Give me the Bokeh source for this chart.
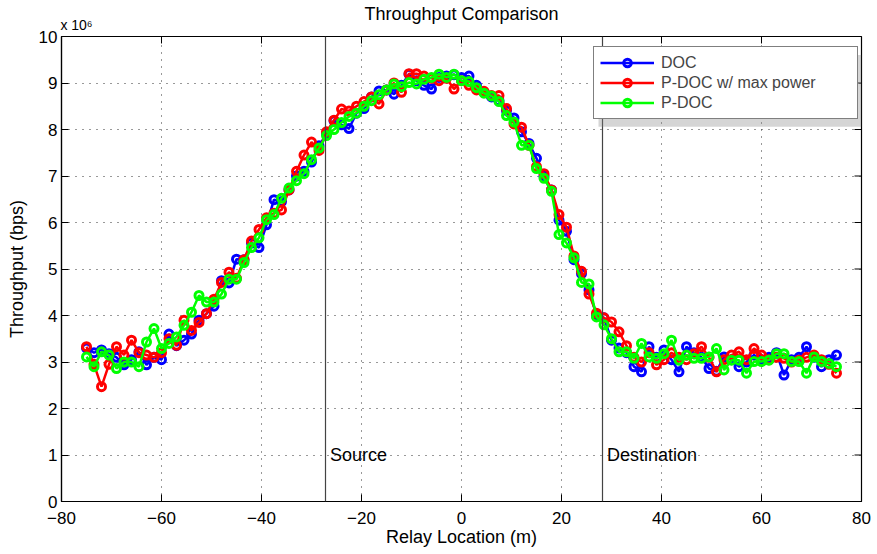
from bokeh.plotting import figure
from bokeh.models import (Range1d, LinearAxis, FixedTicker, Span, Label,
                          Legend, LegendItem, BoxAnnotation)
from bokeh.embed import file_html
from bokeh.resources import INLINE

# ---------------- data ----------------
relay_x = [-75, -73.5, -72, -70.5, -69, -67.5, -66, -64.5, -63, -61.5,
           -60, -58.5, -57, -55.5, -54, -52.5, -51, -49.5, -48, -46.5,
           -45, -43.5, -42, -40.5, -39, -37.5, -36, -34.5, -33, -31.5,
           -30, -28.5, -27, -25.5, -24, -22.5, -21, -19.5, -18, -16.5,
           -15, -13.5, -12, -10.5, -9, -7.5, -6, -4.5, -3, -1.5,
           0, 1.5, 3, 4.5, 6, 7.5, 9, 10.5, 12, 13.5,
           15, 16.5, 18, 19.5, 21, 22.5, 24, 25.5, 27, 28.5,
           30, 31.5, 33, 34.5, 36, 37.5, 39, 40.5, 42, 43.5,
           45, 46.5, 48, 49.5, 51, 52.5, 54, 55.5, 57, 58.5,
           60, 61.5, 63, 64.5, 66, 67.5, 69, 70.5, 72, 73.5,
           75]

# throughput in units of 1e6 bps
doc = [3.30, 3.20, 3.26, 3.18, 3.10, 2.94, 3.05, 3.22, 2.94, 3.10,
       3.05, 3.60, 3.35, 3.47, 3.60, 3.90, 4.04, 4.20, 4.75, 4.70,
       5.21, 5.20, 5.56, 5.46, 5.95, 6.49, 6.45, 6.70, 7.00, 7.10,
       7.30, 7.65, 7.90, 8.19, 8.10, 8.02, 8.35, 8.45, 8.70, 8.83,
       8.85, 8.76, 8.95, 9.19, 9.05, 8.95, 8.87, 9.12, 9.15, 9.18,
       9.12, 9.15, 8.95, 8.80, 8.70, 8.62, 8.41, 8.25, 7.95, 7.70,
       7.38, 7.00, 6.70, 6.05, 5.81, 5.20, 4.90, 4.55, 4.00, 3.95,
       3.47, 3.30, 3.20, 2.90, 2.79, 3.33, 3.10, 3.26, 3.05, 2.79,
       3.33, 3.20, 3.10, 2.86, 2.80, 3.11, 3.05, 2.90, 3.00, 3.15,
       3.05, 3.10, 3.20, 2.72, 3.05, 3.10, 3.33, 3.10, 2.90, 3.05,
       3.15]

pdoc_max = [3.33, 2.95, 2.47, 2.95, 3.33, 3.15, 3.47, 3.20, 3.15, 3.10,
            3.20, 3.50, 3.36, 3.90, 3.68, 3.85, 4.04, 4.35, 4.71, 4.93,
            4.80, 5.20, 5.60, 5.85, 6.10, 6.20, 6.27, 6.70, 7.10, 7.45,
            7.73, 7.55, 7.95, 8.20, 8.44, 8.40, 8.50, 8.60, 8.70, 8.55,
            8.85, 9.00, 8.80, 9.20, 9.20, 9.15, 9.10, 9.05, 9.10, 8.87,
            9.05, 8.95, 8.85, 8.82, 8.73, 8.73, 8.45, 8.12, 8.05, 7.66,
            7.20, 7.05, 6.70, 6.17, 5.90, 5.28, 4.95, 4.46, 4.05, 3.95,
            3.86, 3.65, 3.35, 3.10, 3.00, 3.20, 2.94, 3.05, 3.20, 3.10,
            3.05, 3.18, 3.33, 3.10, 2.79, 3.05, 3.15, 3.22, 3.05, 3.29,
            3.15, 3.05, 3.10, 3.08, 3.00, 3.04, 3.10, 3.15, 3.05, 2.95,
            2.76]

pdoc = [3.11, 2.90, 3.22, 3.15, 2.86, 3.00, 3.00, 2.90, 3.43, 3.72,
        3.29, 3.40, 3.54, 3.79, 4.07, 4.43, 4.29, 4.29, 4.46, 4.78,
        4.78, 5.14, 5.46, 5.67, 6.06, 6.17, 6.52, 6.74, 6.90, 7.05,
        7.35, 7.60, 7.87, 8.00, 8.15, 8.28, 8.35, 8.50, 8.62, 8.75,
        8.85, 8.98, 8.92, 9.01, 8.98, 9.08, 9.12, 9.19, 9.12, 9.19,
        9.05, 9.03, 8.90, 8.78, 8.72, 8.60, 8.30, 8.16, 7.66, 7.66,
        7.16, 6.95, 6.67, 5.74, 5.56, 5.24, 4.71, 4.68, 3.97, 3.80,
        3.50, 3.22, 3.22, 3.08, 3.40, 3.11, 3.08, 3.18, 3.47, 3.04,
        3.15, 3.08, 3.08, 3.11, 3.29, 2.83, 3.04, 3.04, 2.76, 3.01,
        3.01, 3.04, 3.18, 3.18, 3.01, 3.01, 2.76, 3.11, 3.01, 2.97,
        2.90]

series_names = ["DOC", "P-DOC w/ max power", "P-DOC"]
series_colors = ["#0000ff", "#ff0000", "#00ff00"]

x_ticks = [-80, -60, -40, -20, 0, 20, 40, 60, 80]
x_tick_labels = ["\u221280", "\u221260", "\u221240", "\u221220", "0", "20", "40", "60", "80"]
y_ticks = [0, 1, 2, 3, 4, 5, 6, 7, 8, 9, 10]
y_tick_labels = ["0", "1", "2", "3", "4", "5", "6", "7", "8", "9", "10"]

source_x = -27.2
dest_x = 28.2
marker_text_y = 1.0

title_text = "Throughput Comparison"
exponent_text = "x 10\u2076"
exponent_anchor_x = -77   # where the exponent note sits along the top edge

assert len(relay_x) == len(doc) == len(pdoc_max) == len(pdoc)

FONT = "Liberation Sans"
X0, X1, Y0, Y1 = -80, 80, 0, 10

W, H = 877, 554
FRAME_L, FRAME_R, FRAME_T, FRAME_B = 61, 16, 32, 53
frame_w = W - FRAME_L - FRAME_R
frame_h = H - FRAME_T - FRAME_B
TICK_PX = 7

p = figure(width=W, height=H, x_range=Range1d(X0, X1), y_range=Range1d(Y0, Y1),
           output_backend="svg", toolbar_location=None, title=None,
           min_border_left=FRAME_L, min_border_right=FRAME_R, min_border_top=FRAME_T,
           min_border_bottom=FRAME_B)
p.background_fill_color = "white"
p.border_fill_color = "white"
p.outline_line_color = "black"
p.outline_line_width = 1.2

xa = p.xaxis[0]
ya = p.yaxis[0]
xa.ticker = FixedTicker(ticks=x_ticks)
ya.ticker = FixedTicker(ticks=y_ticks)
xa.major_label_overrides = {t: l for t, l in zip(x_ticks, x_tick_labels)}
ya.major_label_overrides = {t: l for t, l in zip(y_ticks, y_tick_labels)}
for ax in (xa, ya):
    ax.major_tick_in = TICK_PX
    ax.major_tick_out = 0
    ax.minor_tick_in = 0
    ax.minor_tick_out = 0
    ax.axis_line_color = "black"
    ax.axis_line_width = 1.2
    ax.major_tick_line_color = "black"
    ax.major_label_text_font = FONT
    ax.major_label_text_color = "black"
    ax.major_label_text_font_size = "17px"
    ax.axis_label_text_font = FONT
    ax.axis_label_text_font_size = "18px"
    ax.axis_label_text_font_style = "normal"
    ax.axis_label_text_color = "black"
xa.major_label_standoff = 10
ya.major_label_standoff = 4
xa.axis_label = "Relay Location (m)"
ya.axis_label = "Throughput (bps)"
xa.axis_label_standoff = 0
ya.axis_label_standoff = 9

# top axis: carries the exponent note as its only tick label and the title as its label
top_ax = LinearAxis(ticker=FixedTicker(ticks=[exponent_anchor_x]),
                    major_label_overrides={exponent_anchor_x: exponent_text},
                    axis_label=title_text)
top_ax.major_tick_in = 0
top_ax.major_tick_out = 0
top_ax.minor_tick_in = 0
top_ax.minor_tick_out = 0
top_ax.axis_line_color = None
top_ax.major_label_standoff = 4
top_ax.major_label_text_font = FONT
top_ax.major_label_text_font_size = "14px"
top_ax.major_label_text_color = "black"
top_ax.axis_label_text_font = FONT
top_ax.axis_label_text_font_size = "18px"
top_ax.axis_label_text_font_style = "normal"
top_ax.axis_label_text_color = "black"
top_ax.axis_label_standoff = -10
p.add_layout(top_ax, "above")

for g in (p.xgrid[0], p.ygrid[0]):
    g.grid_line_color = "#333333"
    g.grid_line_dash = "1 6"
    g.grid_line_width = 1
p.xgrid[0].ticker = FixedTicker(ticks=x_ticks)
p.ygrid[0].ticker = FixedTicker(ticks=y_ticks)

# inward ticks on the top and right frame edges (MATLAB box style)
dy_tick = (Y1 - Y0) * TICK_PX / frame_h
dx_tick = (X1 - X0) * TICK_PX / frame_w
p.segment(x0=x_ticks, y0=[Y1] * len(x_ticks), x1=x_ticks, y1=[Y1 - dy_tick] * len(x_ticks),
          line_color="black", line_width=1)
p.segment(x0=[X1] * len(y_ticks), y0=y_ticks, x1=[X1 - dx_tick] * len(y_ticks), y1=y_ticks,
          line_color="black", line_width=1)

# ---------------- series ----------------
items = []
for name, color, vals in zip(series_names, series_colors, [doc, pdoc_max, pdoc]):
    ln = p.line(relay_x, vals, line_color=color, line_width=2.5)
    sc = p.scatter(relay_x, vals, marker="circle", size=8, fill_color=None,
                   line_color=color, line_width=3)
    items.append(LegendItem(label=name, renderers=[ln, sc]))

# source / destination markers
for loc, txt in ((source_x, "Source"), (dest_x, "Destination")):
    p.add_layout(Span(location=loc, dimension="height", line_color="#444444", line_width=1.2))
    p.add_layout(Label(x=loc, y=marker_text_y, x_offset=4.5, text=txt,
                       text_font=FONT, text_font_size="18px", text_baseline="middle",
                       text_color="black"))

# legend shadow
p.add_layout(BoxAnnotation(left=27.4, right=80, top=9.60, bottom=8.06,
                           fill_color="#888888", fill_alpha=0.35, line_color=None))

legend = Legend(items=items, location=(532, 382), margin=0, padding=6, spacing=1,
                label_height=19, glyph_height=19, glyph_width=54, label_standoff=7,
                label_width=190, label_text_font=FONT, label_text_font_size="16px",
                border_line_color="black", border_line_width=1,
                background_fill_color="white", background_fill_alpha=1.0)
p.add_layout(legend)

open("out.html", "w").write(file_html(p, INLINE))
